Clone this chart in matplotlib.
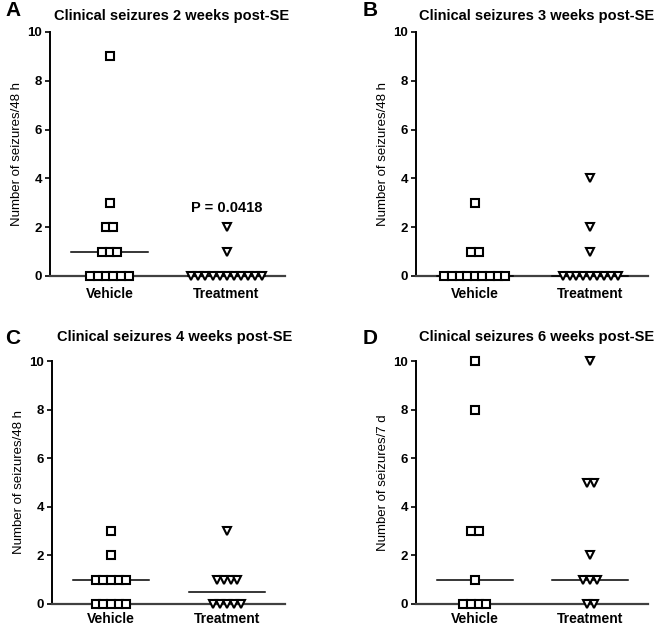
import matplotlib.pyplot as plt
import numpy as np

plt.rcParams['font.family'] = ['Liberation Sans', 'DejaVu Sans']

groups = ['Vehicle', 'Treatment']

# panel A: 2 weeks
a_vehicle = [9, 3, 2, 2, 1, 1, 1, 0, 0, 0, 0, 0, 0]
a_treatment = [2, 1, 0, 0, 0, 0, 0, 0, 0, 0, 0, 0, 0]
# panel B: 3 weeks
b_vehicle = [3, 1, 1, 0, 0, 0, 0, 0, 0, 0, 0, 0]
b_treatment = [4, 2, 1, 0, 0, 0, 0, 0, 0, 0, 0, 0]
# panel C: 4 weeks
c_vehicle = [3, 2, 1, 1, 1, 1, 1, 0, 0, 0, 0, 0]
c_treatment = [3, 1, 1, 1, 1, 0, 0, 0, 0, 0]
# panel D: 6 weeks
d_vehicle = [10, 8, 3, 3, 1, 0, 0, 0, 0]
d_treatment = [10, 5, 5, 2, 1, 1, 1, 0, 0]

panels = [
    ('A', 'Clinical seizures 2 weeks post-SE', 'Number of seizures/48 h', a_vehicle, a_treatment, 'P = 0.0418'),
    ('B', 'Clinical seizures 3 weeks post-SE', 'Number of seizures/48 h', b_vehicle, b_treatment, None),
    ('C', 'Clinical seizures 4 weeks post-SE', 'Number of seizures/48 h', c_vehicle, c_treatment, None),
    ('D', 'Clinical seizures 6 weeks post-SE', 'Number of seizures/7 d', d_vehicle, d_treatment, None),
]

# axes boxes in pixels (left, top, right, bottom) on 660x628
W, H = 660, 628
boxes = [(50, 32, 285, 276), (416, 32, 648, 276), (52, 361, 285, 604), (416, 361, 648, 604)]
# title centre, letter position (pixels)
title_xy = [(172, 16), (537, 16), (175, 337), (537, 337)]
letter_xy = [(5, 11), (363, 11), (5, 338), (363, 338)]
xlabel_pad = [8, 8, 5.5, 5.5]


def spread(vals, center, step):
    vals = np.asarray(vals, dtype=float)
    xs = np.zeros(len(vals))
    for v in np.unique(vals):
        idx = np.where(vals == v)[0]
        n = len(idx)
        xs[idx] = center + (np.arange(n) - (n - 1) / 2) * step
    return xs


fig = plt.figure(figsize=(W / 100, H / 100), dpi=100)

for i, (letter, title, ylabel, veh, trt, ptext) in enumerate(panels):
    l, t, r, b = boxes[i]
    ax = fig.add_axes([l / W, 1 - b / H, (r - l) / W, (b - t) / H])
    ax.set_xlim(0.49, 2.5)
    ax.set_ylim(0, 10)

    xv = spread(veh, 1, 0.066)
    xt = spread(trt, 2, 0.06)
    ax.plot(xv, veh, 's', ms=5.2, mfc='white', mec='black', mew=1.5,
            ls='none', clip_on=False, zorder=5)
    ax.plot(xt, trt, 'v', ms=6, mfc='white', mec='black', mew=1.5,
            ls='none', clip_on=False, zorder=5)

    for pos, vals in zip([1, 2], [veh, trt]):
        med = np.median(vals)
        ax.plot([pos - 0.33, pos + 0.33], [med, med], color='black', lw=1.1,
                clip_on=False, zorder=4)

    if ptext:
        ax.text(2, 2.8, ptext, ha='center', va='center', fontsize=10.5, fontweight='bold')

    ax.spines['top'].set_visible(False)
    ax.spines['right'].set_visible(False)
    ax.spines['left'].set_linewidth(1.4)
    ax.spines['bottom'].set_linewidth(1.6)
    ax.spines['bottom'].set_color('#404040')
    ax.set_yticks([0, 2, 4, 6, 8, 10])
    ax.set_xticks([1, 2])
    ax.set_xticklabels(groups)
    ax.tick_params(axis='x', length=0, pad=xlabel_pad[i], labelsize=10)
    ax.tick_params(axis='y', length=3.5, width=1.2, pad=2, labelsize=9.5)
    for lab in ax.get_yticklabels() + ax.get_xticklabels():
        lab.set_fontweight('bold')
    ax.set_ylabel(ylabel, fontsize=9.5, labelpad=3)

    tx, ty = title_xy[i]
    fig.text(tx / W, 1 - ty / H, title, ha='center', va='center',
             fontsize=10.5, fontweight='bold')
    lx, ly = letter_xy[i]
    fig.text(lx / W, 1 - ly / H, letter, ha='left', va='center',
             fontsize=15, fontweight='bold')

fig.savefig('out.png', dpi=100)
